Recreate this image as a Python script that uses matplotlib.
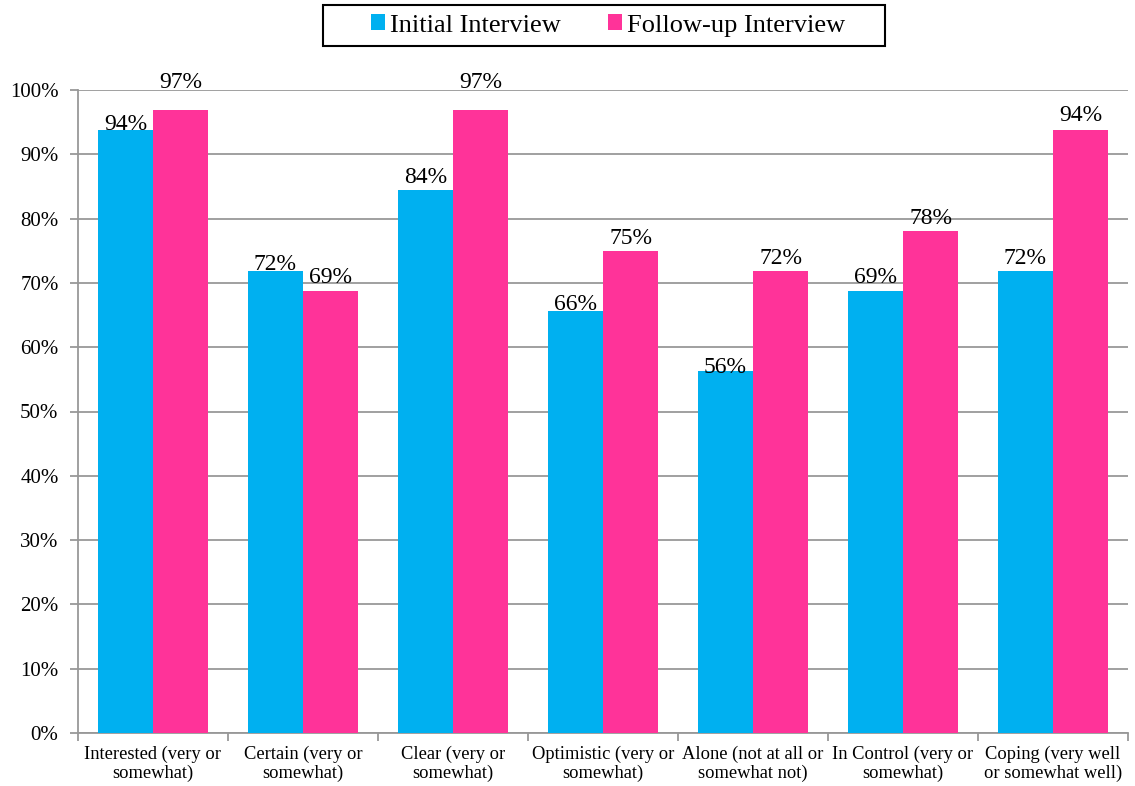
import matplotlib
matplotlib.use("Agg")
import matplotlib.pyplot as plt
import numpy as np
from matplotlib.patches import Rectangle
from matplotlib.ticker import FuncFormatter, FixedLocator

plt.rcParams["font.family"] = ["Liberation Serif", "DejaVu Serif"]

categories = [
    "Interested (very or\nsomewhat)",
    "Certain (very or\nsomewhat)",
    "Clear (very or\nsomewhat)",
    "Optimistic (very or\nsomewhat)",
    "Alone (not at all or\nsomewhat not)",
    "In Control (very or\nsomewhat)",
    "Coping (very well\nor somewhat well)",
]
initial = [93.75, 71.875, 84.375, 65.625, 56.25, 68.75, 71.875]
followup = [96.875, 68.75, 96.875, 75.0, 71.875, 78.125, 93.75]
series_names = ["Initial Interview", "Follow-up Interview"]
colors = ["#00B0F0", "#FF3399"]

# label baseline offsets above each bar, in pixels
gap_initial = [0, 1, 7, 1, -2, 8, 7]
gap_followup = [22, 8, 22, 7, 7, 7, 9]

W, H = 1135, 786
fig = plt.figure(figsize=(W / 100, H / 100), dpi=100)
ax = fig.add_axes([78 / W, 1 - 733 / H, 1050 / W, (733 - 90) / H])

x = np.arange(len(categories))
w = 0.367
b1 = ax.bar(x - w / 2, initial, w, color=colors[0], label=series_names[0], zorder=3)
b2 = ax.bar(x + w / 2, followup, w, color=colors[1], label=series_names[1], zorder=3)

for bars, vals, gaps in ((b1, initial, gap_initial), (b2, followup, gap_followup)):
    for rect, v, g in zip(bars, vals, gaps):
        ax.annotate(f"{v:.0f}%", (rect.get_x() + rect.get_width() / 2, v),
                    xytext=(0, g * 0.72), textcoords="offset points",
                    ha="center", va="baseline", fontsize=17, zorder=4,
                    annotation_clip=False)

ax.set_xlim(-0.5, len(categories) - 0.5)
ax.set_ylim(0, 100)
ax.set_yticks(np.arange(0, 101, 10))
ax.yaxis.set_major_formatter(FuncFormatter(lambda v, p: f"{v:.0f}%"))
ax.yaxis.grid(True, color="#989898", linewidth=1.3, zorder=0)
ax.set_axisbelow(True)

# category labels centred under each group, tick marks at group boundaries
ax.set_xticks(x)
ax.set_xticklabels(categories, fontsize=13.3, linespacing=1.15)
ax.tick_params(axis="x", length=0, pad=9)
ax.xaxis.set_minor_locator(FixedLocator(np.arange(-0.5, len(categories), 1.0)))
ax.tick_params(axis="x", which="minor", length=6, color="#989898", width=1.3)
ax.tick_params(axis="y", length=6, color="#989898", width=1.3, labelsize=15, pad=8)

for s in ("top", "right"):
    ax.spines[s].set_visible(False)
for s in ("left", "bottom"):
    ax.spines[s].set_color("#989898")
    ax.spines[s].set_linewidth(1.3)

# legend box along the top
fig.patches.append(Rectangle((323 / W, 1 - 46 / H), (885 - 323) / W, 41 / H,
                             transform=fig.transFigure, facecolor="white",
                             edgecolor="black", linewidth=1.5, zorder=5))
leg = fig.legend(handles=[b1, b2], labels=series_names, loc="center",
                 bbox_to_anchor=(608 / W, 1 - 25.5 / H), ncol=2,
                 fontsize=19, frameon=False, borderpad=0,
                 handlelength=0.53, handleheight=0.53, handletextpad=0.18,
                 columnspacing=1.78)
leg.set_zorder(6)

fig.savefig("out.png", dpi=100)
